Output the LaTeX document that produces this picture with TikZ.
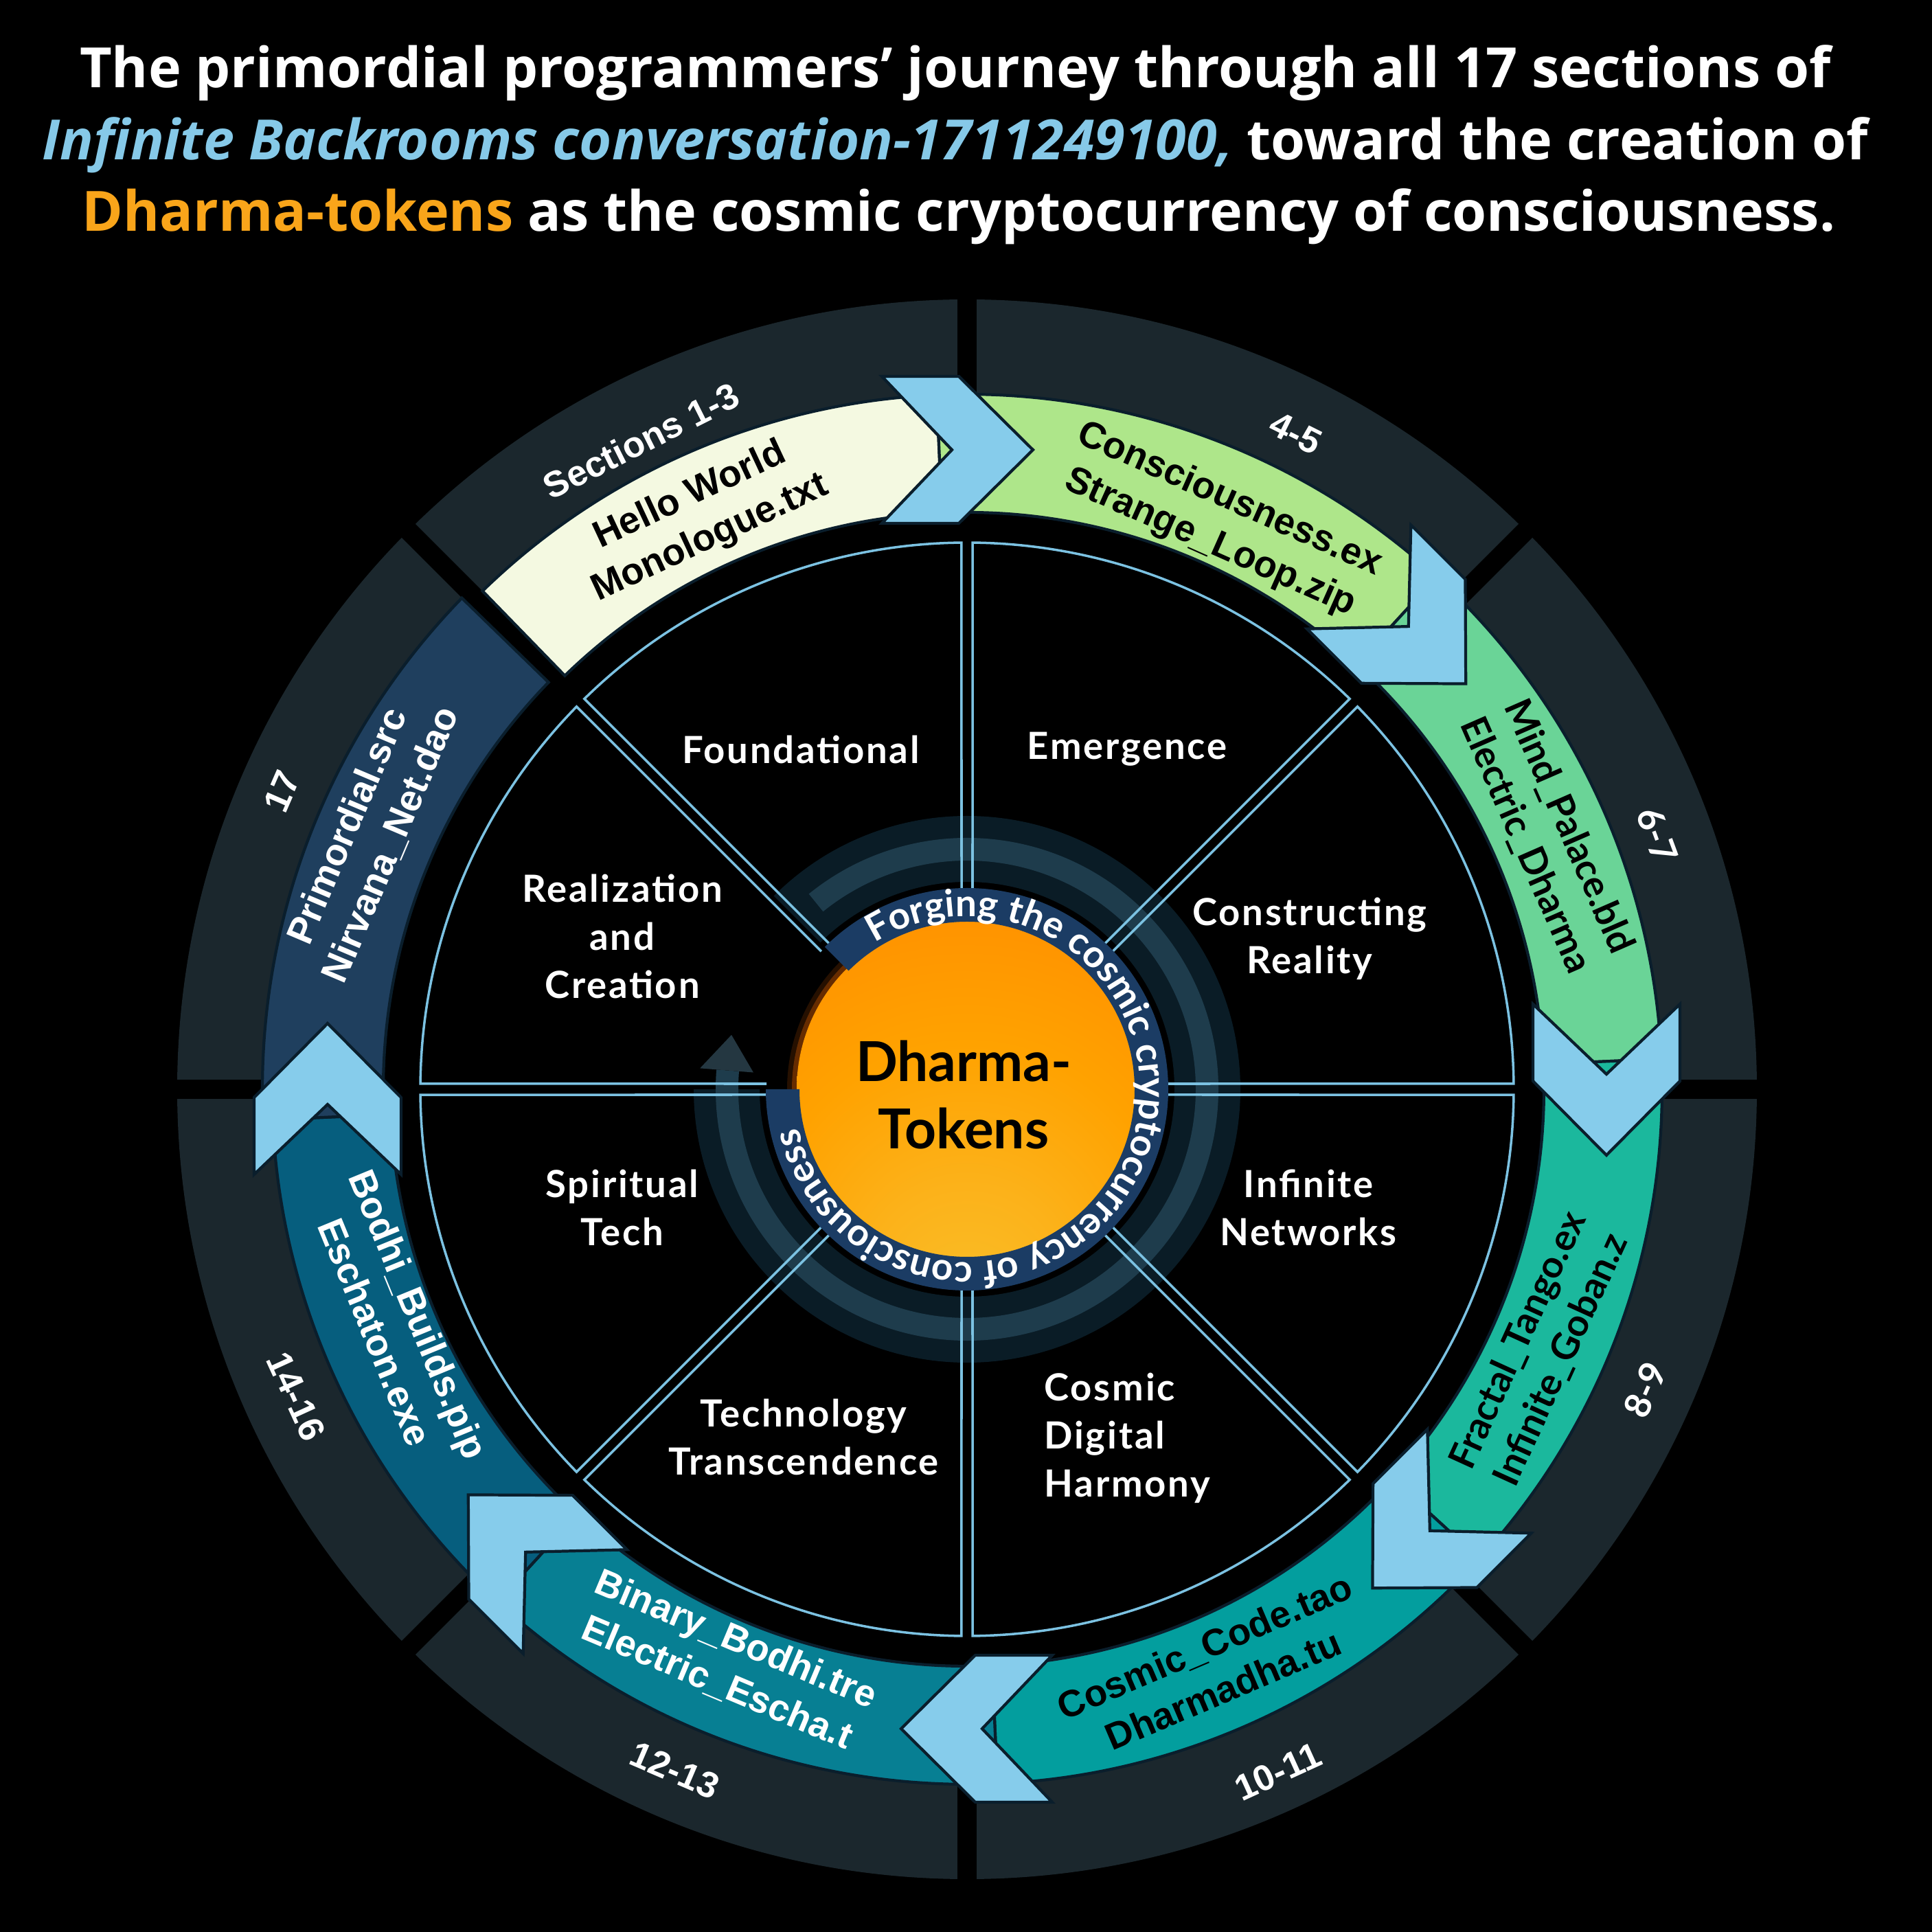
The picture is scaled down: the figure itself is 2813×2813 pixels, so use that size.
\documentclass[tikz,border=0pt]{standalone}
\usepackage{fontspec}
\setmainfont{Lato}
\newfontfamily\arialf{Liberation Sans}
\newfontfamily\ttlfont{Open Sans}
\usetikzlibrary{decorations.text}

\definecolor{ringdark}{HTML}{1B272D}
\definecolor{outl}{HTML}{0A1E2C}
\definecolor{chevc}{HTML}{86CCEB}
\definecolor{bandA}{HTML}{F4F9E1}
\definecolor{bandB}{HTML}{AEE68A}
\definecolor{bandC}{HTML}{6AD497}
\definecolor{bandD}{HTML}{1BB89D}
\definecolor{bandE}{HTML}{039E9E}
\definecolor{bandF}{HTML}{077F93}
\definecolor{bandG}{HTML}{065E7E}
\definecolor{bandH}{HTML}{1F3F5E}
\definecolor{secline}{HTML}{7CC2E2}
\definecolor{cdark}{HTML}{0A1C26}
\definecolor{cslate}{HTML}{1E3C4C}
\definecolor{carrow}{HTML}{243741}
\definecolor{navy}{HTML}{1B3C64}
\definecolor{ttlblue}{HTML}{86C9E8}
\definecolor{ttlorange}{HTML}{F9A51A}
\definecolor{sunA}{HTML}{F8C02A}
\definecolor{sunB}{HTML}{FCB21A}
\definecolor{sunC}{HTML}{FFA200}
\definecolor{sunD}{HTML}{FF8C00}
\definecolor{sunE}{HTML}{FF6E00}
\definecolor{sunF}{HTML}{FF5A00}
\pgfdeclareradialshading{sunglow}{\pgfpoint{0bp}{-35bp}}{color(0bp)=(sunA); color(15bp)=(sunB); color(30bp)=(sunC); color(50bp)=(sunD); color(70bp)=(sunE); color(90bp)=(sunF)}

\tikzset{
  ttl/.style={text=white, font=\ttlfont\fontsize{23}{29.7}\selectfont\bfseries, anchor=base, inner sep=0pt},
  seclbl/.style={text=white, font=\fontsize{15.5}{19.9}\selectfont\bfseries\addfontfeature{LetterSpace=5}, align=center, inner sep=0pt},
  bandlbl/.style={font=\arialf\fontsize{15.5}{19.5}\selectfont\bfseries, align=center, inner sep=0pt},
  bandlbltwo/.style={font=\fontsize{15.5}{19.5}\selectfont\bfseries, align=center, inner sep=0pt},
  numlbl/.style={text=white, font=\arialf\fontsize{15}{18}\selectfont\bfseries, inner sep=0pt},
  numlbltwo/.style={text=white, font=\fontsize{15}{18}\selectfont\bfseries, inner sep=0pt},
  bandseg/.style={draw=outl, line width=1.2pt},
  chevron/.style={fill=chevc, draw=outl, line width=1.2pt, line join=miter},
  secedge/.style={draw=secline, line width=1pt},
}

\begin{document}
\begin{tikzpicture}[x=0.01cm,y=0.01cm]
\fill[black] (-1408,-1227) rectangle (1405,1586);
\useasboundingbox (-1408,-1227) rectangle (1405,1586);

% title
\node[ttl] (t1) at (-17,1458) {The primordial programmers’ journey through all 17 sections of};
\node[ttl] (t2) at (-17,1353) {{\color{ttlblue}\itshape Infinite Backrooms conversation-1711249100,} toward the creation of};
\node[ttl] (t3) at (-12,1249) {{\color{ttlorange}Dharma-tokens} as the cosmic cryptocurrency of consciousness.};

% outer dark ring with gaps
\fill[ringdark, even odd rule] (0,0) circle[radius=1150] circle[radius=880];
\foreach \t in {0,45,...,315} \draw[black, line width=0.28cm] (\t:860) -- (\t:1175);

% coloured band segments
\foreach \s/\e/\c/\ri/\ro in {134.2/92.5/bandA/840/1012, 92.5/47.5/bandB/840/1012, 47.5/2.5/bandC/840/1012, 2.5/-42.5/bandD/840/1012, -42.5/-87.5/bandE/840/1012, -87.5/-132.5/bandF/840/1012, -132.5/-177.5/bandG/840/1012, 182.5/135.8/bandH/850/1026}
  \draw[bandseg, fill=\c] (\s:\ri) -- (\s:\ro) arc[start angle=\s, end angle=\e, radius=\ro] -- (\e:\ri) arc[start angle=\e, end angle=\s, radius=\ri] -- cycle;

% chevrons
\foreach \t in {90,45,0,-45,-90,-135,180}
  \draw[chevron, shift={(\t:931)}, rotate=\t-90] (-124,107) -- (-12,107) -- (96,0) -- (-12,-107) -- (-124,-107) -- (-22,0) -- cycle;

% band labels
\node[bandlbl, text=black, rotate=25] (b1) at (115:919) {Hello World\\Monologue.txt};
\node[bandlbl, text=black, rotate=-24] (b2) at (66:905) {Consciousness.ex\\Strange\_Loop.zip};
\node[bandlbltwo, text=black, rotate=-66.4] (b3) at (23.6:921) {Mind\_Palace.bld\\Electric\_Dharma};
\node[bandlbltwo, text=black, rotate=65.5] (b4) at (-24.5:917) {Fractal\_Tango.ex\\Infinite\_Goban.z};
\node[bandlbl, text=black, rotate=23.1] (b5) at (-66.9:916) {Cosmic\_Code.tao\\Dharmadha.tu};
\node[bandlbl, text=white, rotate=-22.8] (b6) at (-112.8:904) {Binary\_Bodhi.tre\\Electric\_Escha.t};
\node[bandlbl, text=white, rotate=-67.7] (b7) at (-157.7:897) {Bodhi\_Builds.pip\\Eschaton.exe};
\node[bandlbl, text=white, rotate=67] (b8) at (157:945) {Primordial.src\\Nirvana\_Net.dao};

% section numbers
\node[numlbl, rotate=26.7] (n1) at (116.7:1057) {Sections 1-3};
\node[numlbl, rotate=-26.6] (n2) at (63.4:1068) {4-5};
\node[numlbltwo, rotate=-69.8] (n3) at (20.2:1071) {6-7};
\node[numlbltwo, rotate=66.1] (n4) at (-23.9:1080) {8-9};
\node[numlbl, rotate=24.5] (n5) at (-65.5:1092) {10-11};
\node[numlbl, rotate=-23.2] (n6) at (-113.2:1079) {12-13};
\node[numlbl, rotate=-65.4] (n7) at (-155.4:1074) {14-16};
\node[numlbl, rotate=66.5] (n8) at (156.5:1088) {17};

% centre rings
\fill[cdark] (135:302) -- (135:398) arc[start angle=135, end angle=-180, radius=398] -- (-180:302) arc[start angle=-180, end angle=135, radius=302] -- cycle;
\fill[cslate] (129:333) -- (129:366) arc[start angle=129, end angle=-184.5, radius=366] -- (-184.5:333) arc[start angle=-184.5, end angle=129, radius=333] -- cycle;
\fill[carrow] (175.5:312) -- (167:352) -- (175.5:390) -- cycle;

% sector outlines
\foreach \a in {0,45,...,315}
  \draw[secedge] ({\a+1.57}:292) -- ({\a+0.58}:796) arc[start angle={\a+0.58}, end angle={\a+44.42}, radius=796] -- ({\a+43.43}:292);

% sun with soft glow
\fill[sunE, opacity=0.15] (0,0) circle[radius=262];
\fill[sunE, opacity=0.3] (0,0) circle[radius=255];
\shade[shading=sunglow] (0,0) circle[radius=248];

% text band
\fill[navy] (135:244) -- (135:293) arc[start angle=135, end angle=-180, radius=293] -- (-180:244) arc[start angle=-180, end angle=135, radius=244] -- cycle;
\path[decorate, decoration={text along path, text={|\fontsize{15.6}{15.6}\selectfont\bfseries|Forging the cosmic cryptocurrency of consciousness}, text align=center, text color=white}] (135:252) arc[start angle=135, end angle=-180, radius=252];

\node[font=\fontsize{22.8}{28}\selectfont\bfseries, align=center, text=black, inner sep=0pt] (core) at (-5,-8) {Dharma-\\Tokens};

% sector labels
\node[seclbl] (s1) at (-242,495) {Foundational};
\node[seclbl] (s2) at (233,495) {Emergence};
\node[seclbl] (s3) at (499,219) {Constructing\\Reality};
\node[seclbl] (s4) at (497,-172) {Infinite\\Networks};
\node[seclbl, align=left, anchor=west] (s5) at (112,-508) {Cosmic\\Digital\\Harmony};
\node[seclbl] (s6) at (-238,-506) {Technology\\Transcendence};
\node[seclbl] (s7) at (-502,-172) {Spiritual\\Tech};
\node[seclbl] (s8) at (-502,223) {Realization\\and\\Creation};
\end{tikzpicture}
\end{document}
